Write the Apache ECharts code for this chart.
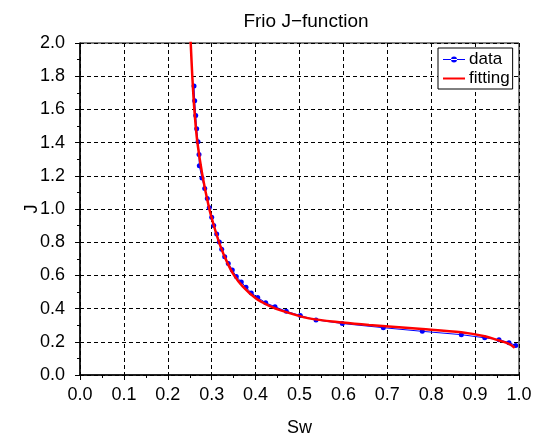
<!DOCTYPE html>
<html>
<head>
<meta charset="utf-8">
<script src="https://cdn.jsdelivr.net/npm/echarts@6/dist/echarts.min.js"></script>
<style>
  html, body { margin: 0; padding: 0; background: #fff; }
  #chart { width: 538px; height: 442px; }
</style>
</head>
<body>
<div id="chart"></div>
<script>
// Measured J-function samples (water saturation vs. J)
const dataSw = [0.2597, 0.2613, 0.2636, 0.2658, 0.2688, 0.2711, 0.2718, 0.2779, 0.2841, 0.2900,
  0.2945, 0.3000, 0.3046, 0.3114, 0.3173, 0.3228, 0.3296, 0.3378, 0.3469, 0.3560,
  0.3674, 0.3781, 0.3902, 0.4048, 0.4230, 0.4442, 0.4699, 0.5018, 0.5376, 0.5975,
  0.6909, 0.7797, 0.8686, 0.9219, 0.9544, 0.9772, 0.9925];
const dataJ = [1.741, 1.652, 1.563, 1.484, 1.405, 1.329, 1.260, 1.187, 1.123, 1.064,
  1.007, 0.951, 0.900, 0.850, 0.801, 0.758, 0.712, 0.672, 0.633, 0.593,
  0.560, 0.528, 0.494, 0.467, 0.435, 0.411, 0.384, 0.358, 0.332, 0.310,
  0.285, 0.263, 0.243, 0.224, 0.213, 0.195, 0.178];

// Fitted curve
const fitSw = [0.2508, 0.2522, 0.2558, 0.2604, 0.2672, 0.2786, 0.2938, 0.3060, 0.3200, 0.3350,
  0.3500, 0.3700, 0.4002, 0.4300, 0.4608, 0.5216, 0.5975, 0.6583, 0.7797, 0.8686,
  0.9219, 0.9544, 0.9772, 0.9902];
const fitJ = [2.08, 2.00, 1.800, 1.602, 1.405, 1.207, 1.009, 0.890, 0.775, 0.680,
  0.605, 0.535, 0.462, 0.418, 0.386, 0.341, 0.316, 0.301, 0.277, 0.257,
  0.233, 0.208, 0.188, 0.164];

const xTicks = { min: 0, max: 1, interval: 0.1 };
const yTicks = { min: 0, max: 2, interval: 0.2 };

const font = 'Liberation Sans, Arial, Helvetica, sans-serif';
const chart = echarts.init(document.getElementById('chart'), null, { renderer: 'canvas' });

const pairs = (xs, ys) => xs.map((x, i) => [x, ys[i]]);
const gridDash = { color: '#000', type: [4, 3], width: 1 };

// legend glyphs: thin line with a centred dot, and a plain thick line
const dotLineIcon = 'path://M0,5.5 L22,5.5 L22,6.5 L0,6.5 Z M11,6 m-3,0 a3,3 0 1,0 6,0 a3,3 0 1,0 -6,0 Z';
const thickLineIcon = 'path://M0,5 L22,5 L22,7 L0,7 Z';

chart.setOption({
  animation: false,
  backgroundColor: '#fff',
  title: {
    text: 'Frio J\u2212function',
    left: 301,
    textAlign: 'center',
    top: 7,
    textStyle: { fontFamily: font, fontSize: 19, fontWeight: 'normal', color: '#000' }
  },
  grid: {
    left: 80, right: 19, top: 43, bottom: 62,
    show: true, borderColor: '#000', borderWidth: 1, backgroundColor: 'transparent'
  },
  legend: {
    left: 438, top: 48,
    orient: 'vertical',
    backgroundColor: '#fff',
    borderColor: '#000', borderWidth: 1,
    padding: [3, 3, 2, 5],
    itemGap: 2,
    itemWidth: 22, itemHeight: 12,
    textStyle: { fontFamily: font, fontSize: 17, color: '#000', padding: [0, 0, 0, -1] },
    data: [
      { name: 'data', icon: dotLineIcon },
      { name: 'fitting', icon: thickLineIcon }
    ]
  },
  xAxis: {
    type: 'value',
    min: xTicks.min, max: xTicks.max, interval: xTicks.interval,
    name: 'Sw', nameLocation: 'middle', nameGap: 44, nameMoveOverlap: false,
    nameTextStyle: { fontFamily: font, fontSize: 18, color: '#000' },
    axisLine: { show: true, lineStyle: { color: '#000', width: 1.5 } },
    axisTick: { show: true, length: 5, lineStyle: { color: '#000' } },
    minorTick: { show: true, splitNumber: 2, length: 3, lineStyle: { color: '#000' } },
    axisLabel: { fontFamily: font, fontSize: 18, color: '#000', margin: 11,
      formatter: v => v.toFixed(1) },
    splitLine: { show: true, lineStyle: gridDash }
  },
  yAxis: {
    type: 'value',
    min: yTicks.min, max: yTicks.max, interval: yTicks.interval,
    name: 'J', nameLocation: 'middle', nameGap: 39, nameMoveOverlap: false,
    nameTextStyle: { fontFamily: font, fontSize: 18, color: '#000' },
    axisLine: { show: true, lineStyle: { color: '#000', width: 1.5 } },
    axisTick: { show: true, length: 5, lineStyle: { color: '#000' } },
    minorTick: { show: true, splitNumber: 2, length: 3, lineStyle: { color: '#000' } },
    axisLabel: { fontFamily: font, fontSize: 18, color: '#000', margin: 15,
      formatter: v => v.toFixed(1) },
    splitLine: { show: true, lineStyle: gridDash }
  },
  series: [
    {
      name: 'data',
      type: 'line',
      data: pairs(dataSw, dataJ),
      color: '#0000ff',
      lineStyle: { color: '#0000ff', width: 1 },
      itemStyle: { color: '#0000ff' },
      symbol: 'circle', symbolSize: 5,
      showSymbol: true,
      clip: true,
      z: 2
    },
    {
      name: 'fitting',
      type: 'line',
      data: pairs(fitSw, fitJ),
      color: '#ff0000',
      lineStyle: { color: '#ff0000', width: 2.5 },
      symbol: 'none',
      smooth: 0.3,
      clip: true,
      z: 3
    }
  ]
});
</script>
</body>
</html>
